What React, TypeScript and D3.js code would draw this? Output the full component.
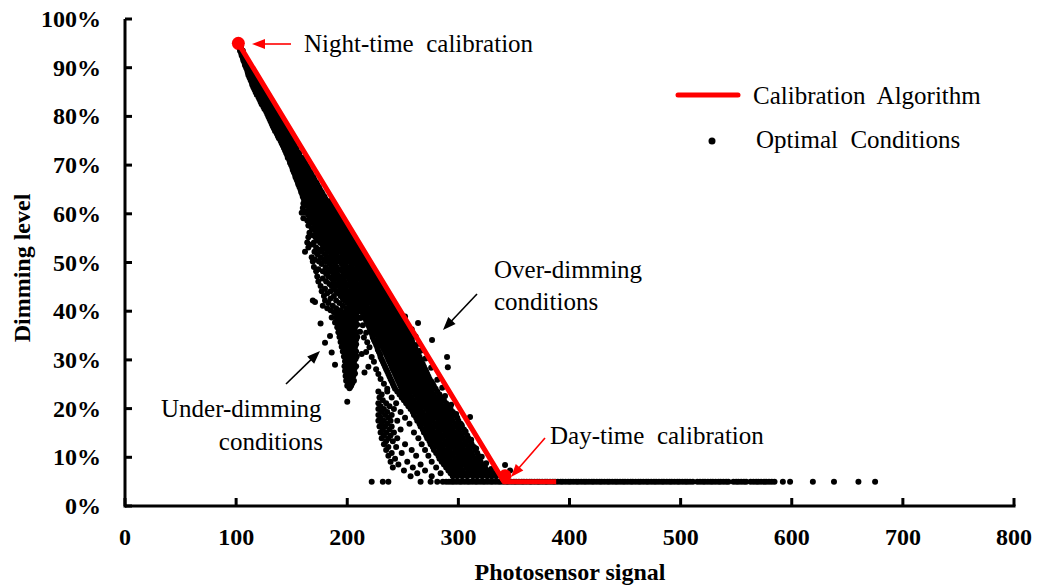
import React from "react";
import * as d3 from "d3";

const WIDTH = 1043;
const HEIGHT = 588;

// Axis ticks
const xTicks = [0, 100, 200, 300, 400, 500, 600, 700, 800];
const yTicks = [0, 10, 20, 30, 40, 50, 60, 70, 80, 90, 100];

// Calibration algorithm: dimming level (%) vs photosensor signal
const calibration: [number, number][] = [
  [102, 95],
  [341, 5],
  [388, 5],
];
const nightCal: [number, number] = [102, 95];
const dayCal: [number, number] = [342, 6.2];

// Optimal conditions, rows of [dimming %, signals]
const upperBand: [number, number[]][] = [
  [95, [102, 103]],
  [94.5, [102.5, 104]],
  [94, [103, 104.5]],
  [93.5, [103.5, 105, 106]],
  [93, [104.5, 106]],
  [92.5, [105, 106.5, 107.5]],
  [92, [106, 107.5, 108.5]],
  [91.5, [106.5, 108, 109.5]],
  [91, [107.5, 109, 110.5]],
  [90.5, [108, 110, 111.5]],
  [90, [109, 110.5, 112.5]],
  [89.5, [110, 111.5, 113, 114]],
  [89, [110.5, 112.5, 114.5]],
  [88.5, [111, 113, 115, 116.5]],
  [88, [112, 114, 116, 117.5]],
  [87.5, [113, 115, 117, 118.5]],
  [87, [114, 116, 118, 119.5]],
  [86.5, [114.5, 116.5, 118.5, 120.5]],
  [86, [115.5, 117.5, 119.5, 121.5, 122.5]],
  [85.5, [116.5, 118.5, 120.5, 122.5]],
  [85, [117.5, 119.5, 121.5, 123.5, 125]],
  [84.5, [118.5, 120.5, 122.5, 124.5]],
  [84, [120, 122, 124, 126, 127.5]],
  [83.5, [121, 123, 125, 127, 128.5]],
  [83, [122, 124, 126, 128, 130]],
  [82.5, [123, 125, 127.5, 129.5, 131]],
  [82, [124.5, 126.5, 128.5, 130.5, 132.5]],
  [81.5, [125.5, 127.5, 130, 132, 134]],
  [81, [127, 129, 131, 133, 135]],
  [80.5, [128, 130, 132, 134, 136]],
  [80, [129, 131.5, 133.5, 135.5, 137.5]],
  [79.5, [130, 132.5, 134.5, 137, 139]],
  [79, [131, 133.5, 136, 138, 140]],
  [78.5, [132, 134.5, 137, 139, 141.5]],
  [78, [133, 135.5, 138, 140.5, 142.5]],
  [77.5, [134, 136.5, 139, 141.5, 144]],
  [77, [135, 137.5, 140, 142.5, 145]],
  [76.5, [136.5, 139, 141.5, 144, 146.5]],
  [76, [137.5, 140, 142.5, 145, 147.5]],
  [75.5, [138.5, 141, 143.5, 146, 148.5, 150]],
  [75, [140, 142.5, 145, 147.5, 150]],
  [74.5, [141, 143.5, 146, 148.5, 151, 152.5]],
  [74, [142, 144.5, 147, 149.5, 152]],
  [73.5, [143, 145.5, 148, 150.5, 153, 154.5]],
  [73, [144, 146.5, 149, 152, 154.5]],
  [72.5, [145, 147.5, 150, 153, 155.5, 157]],
  [72, [146, 148.5, 151.5, 154, 156.5]],
  [71.5, [146.5, 149.5, 152.5, 155, 157.5, 159.5]],
  [71, [148, 150.5, 153.5, 156.5, 159, 160.5]],
  [70.5, [148.5, 151.5, 154.5, 157.5, 160, 162]],
  [70, [149.5, 152.5, 155.5, 158.5, 161, 163]],
  [69.5, [150.5, 153, 156.5, 159.5, 162.5, 164.5]],
  [69, [151, 154, 157, 160.5, 163.5, 165.5]],
  [68.5, [152, 155, 158.5, 161.5, 164.5, 167]],
  [68, [153, 156, 159.5, 162.5, 165.5, 168]],
  [67.5, [153.5, 157, 160, 163.5, 166.5, 169.5]],
  [67, [154.5, 158, 161, 164.5, 168, 170.5]],
  [66.5, [155.5, 159, 162.5, 166, 169, 172]],
  [66, [156, 160, 163.5, 167, 170.5, 173]],
  [65.5, [157, 160.5, 164.5, 168, 171.5, 174.5]],
  [65, [158, 161.5, 165.5, 169, 172.5, 175.5]],
  [64.5, [158.5, 162.5, 166, 170, 173.5, 177]],
  [64, [159.5, 163, 167, 171, 174.5, 178]],
  [63.5, [160, 164, 168, 172, 176, 179.5]],
  [63, [161, 165, 169, 173, 177, 180.5]],
];

const middleBand: [number, number[]][] = [
  [62.6, [162, 166, 168.5, 172, 175, 176.5, 180, 183.5, 185]],
  [62.1, [160.5, 164, 167.5, 169.5, 173, 177, 179, 181.5, 186]],
  [61.7, [163, 165.5, 170, 174.5, 176, 180.5, 183, 185, 188]],
  [61.2, [160, 166, 168, 171, 175.5, 178, 182, 184.5, 187.5]],
  [60.6, [163.5, 169.5, 172.5, 174, 177, 181, 185.5, 189, 190.5]],
  [60.2, [159, 162, 166, 171, 176, 179, 182.5, 184, 187.5, 191]],
  [59.7, [165, 168.5, 173.5, 175.5, 180, 183, 186.5, 190, 192.5]],
  [59.1, [160.5, 167, 170, 174, 178.5, 181.5, 184, 188.5, 191, 194.5]],
  [58.6, [164, 171, 173, 177.5, 179.5, 184, 187.5, 189.5, 193, 196]],
  [58.2, [167.5, 170, 175, 180, 182.5, 186, 190.5, 192, 195.5, 197]],
  [57.6, [165, 171, 174, 177, 181.5, 185, 187.5, 191.5, 195, 198.5]],
  [57.1, [168, 173.5, 176, 179.5, 184, 188, 190, 194, 197.5, 200]],
  [56.7, [170.5, 175, 178.5, 183, 185, 189.5, 193, 196.5, 199, 201.5]],
  [56.1, [166, 172, 177, 180, 184.5, 187, 191.5, 194, 198.5, 202]],
  [55.6, [169, 174, 179.5, 182, 186.5, 190, 193, 197.5, 200, 203.5]],
  [55.2, [165, 171.5, 176, 181, 184, 188.5, 192.5, 195, 199.5, 202, 205]],
  [54.6, [173, 178, 183.5, 186, 191, 194.5, 197, 201.5, 204, 207]],
  [54.1, [164, 170, 175.5, 180, 185, 188, 193, 196, 199, 203.5, 206.5]],
  [53.7, [168, 177.5, 182, 187, 190, 194.5, 198.5, 201, 205.5, 208.5]],
  [53.1, [165, 172, 179, 184.5, 188.5, 192, 196.5, 200.5, 203, 207, 210.5]],
  [52.6, [175, 181.5, 186, 191.5, 194, 199, 202, 206.5, 209, 212]],
  [52.2, [162, 170.5, 177, 183, 188, 193.5, 196, 200, 204.5, 208, 211]],
  [51.7, [173, 180, 185.5, 190, 195.5, 198, 203, 206, 210.5, 213.5]],
  [51.1, [168, 176, 182.5, 188, 192, 197, 201.5, 204, 208.5, 212, 215.5]],
  [50.6, [171, 179, 184, 189.5, 194, 199.5, 202.5, 207.5, 210, 214.5, 217]],
  [50.2, [169, 174.5, 181, 186, 192.5, 196, 200, 205, 209, 212.5, 217.5]],
  [49.7, [177, 184, 189, 195, 198, 203.5, 206.5, 211, 215.5, 219]],
  [49.1, [170, 180.5, 186, 190.5, 196.5, 200, 204, 209.5, 212, 216.5, 220.5]],
  [48.6, [174, 182.5, 188, 193.5, 197, 202, 207.5, 210.5, 215, 219.5, 222]],
  [48.2, [172, 178, 185, 190, 195.5, 199, 204.5, 208, 213.5, 217, 221, 224]],
  [47.7, [181, 187.5, 191, 197.5, 201, 206, 211.5, 214, 219, 222.5]],
  [47.1, [173, 183, 188.5, 194, 198, 203.5, 208.5, 212, 217.5, 220.5, 225]],
  [46.7, [178, 186, 191.5, 195.5, 201.5, 205, 210, 215, 218, 223, 227]],
  [46.1, [174, 181, 188, 193, 197.5, 203, 207, 212.5, 216.5, 221, 225, 228.5]],
  [45.6, [184, 189.5, 195, 200.5, 204, 209.5, 214.5, 218, 223.5, 226.5, 230]],
  [45.2, [176, 186, 191, 197, 202, 206.5, 212, 216, 220.5, 225, 229, 231.5]],
  [44.6, [180, 188, 194, 198.5, 204, 209, 213.5, 218.5, 222, 227, 231]],
  [44.1, [177, 185, 190, 195.5, 201, 206, 210.5, 215.5, 220, 224, 229, 233.5]],
  [43.7, [182, 192, 197, 203, 207.5, 213, 217, 222, 226, 231, 235]],
  [43.1, [179, 188, 194, 199.5, 205, 209.5, 215, 219, 224.5, 228, 233, 236.5]],
  [42.6, [185, 196, 201.5, 207, 211.5, 217, 221, 226, 230.5, 234, 238]],
  [42.2, [169, 180, 190, 197.5, 204, 208.5, 214, 218.5, 223.5, 228, 232, 237, 239.5]],
  [41.7, [183, 193, 200, 205.5, 211, 215.5, 221, 225, 230, 234.5, 238, 241]],
  [41.1, [178, 187, 196, 202.5, 208, 213, 217.5, 223, 227, 232, 236, 241.5]],
  [40.6, [182, 190, 199, 204.5, 210, 214.5, 220, 224.5, 229.5, 233.5, 238.5, 242.5]],
  [40.2, [185, 194, 201, 206.5, 212, 216.5, 222, 226.5, 231, 236, 240, 244]],
];

// Low-signal streak below the main trend
const underStreak: [number, number[]][] = [
  [39.8, [188, 192.5, 197, 201, 205.5, 209]],
  [39.3, [191, 195.5, 199.5, 203, 207.5]],
  [38.7, [186, 190, 194, 198.5, 202, 206, 210]],
  [38.2, [192, 196.5, 200, 204.5, 208]],
  [37.7, [189, 194, 197.5, 202, 206.5]],
  [37.2, [193, 196, 201, 204.5, 209]],
  [36.7, [191, 195.5, 199, 203, 207]],
  [36.2, [194, 197.5, 202, 206]],
  [35.7, [192, 196, 200.5, 204, 208.5]],
  [35.2, [195, 199, 203.5, 207]],
  [34.7, [193, 197.5, 201, 205, 209]],
  [34.2, [196, 200.5, 204, 208]],
  [33.7, [194, 198, 202.5, 206]],
  [33.2, [197, 201, 205.5, 208]],
  [32.7, [195, 199.5, 203, 207]],
  [32.2, [198, 202, 206.5]],
  [31.7, [196, 200, 204, 208]],
  [31.2, [199, 203.5, 207]],
  [30.7, [197, 201, 205, 208.5]],
  [30.2, [200, 204, 207.5]],
  [29.7, [198, 202.5, 206]],
  [29.2, [199, 202.5, 206]],
  [28.7, [197.5, 201, 205, 208]],
  [28.2, [199.5, 203, 206.5]],
  [27.7, [198, 201.5, 205]],
  [27.2, [200, 203.5, 207]],
  [26.7, [198.5, 202, 205.5]],
  [26.2, [200, 204]],
  [25.7, [199, 202.5, 206]],
  [25.2, [201, 204.5]],
  [24.7, [200, 203.5]],
  [24.2, [202]],
];

const scattered: [number, number][] = [
  [171, 41.9], [180, 33.5], [184.5, 34.9], [186, 31.5], [189, 29], [176, 37.5],
  [200, 21.4], [202.5, 24.4], [213, 31.2], [215.5, 27.4], [211.5, 35.8],
];

// Main trend below 40 %
const lowerBand: [number, number[]][] = [
  [39.6, [214, 218, 221.5, 225, 229, 232.5, 236, 239.5, 243, 246]],
  [39.1, [215.5, 219, 223, 226.5, 230, 234, 237.5, 241, 244.5, 247.5]],
  [38.6, [212, 216, 220, 224, 227.5, 231, 234.5, 238.5, 242, 245.5, 248.5]],
  [38.1, [217, 221, 224.5, 228.5, 232, 236, 239.5, 243, 246.5, 249.5]],
  [37.6, [218.5, 222, 226, 229.5, 233, 237, 240.5, 244, 247.5, 250.5]],
  [37.1, [214, 219, 223.5, 227, 231, 234.5, 238, 242, 245.5, 248.5, 251.5]],
  [36.6, [220, 224.5, 228, 232, 235.5, 239.5, 243, 246.5, 250, 252.5]],
  [36.1, [221, 225.5, 229.5, 233, 237, 240.5, 244, 248, 251, 254]],
  [35.6, [217, 222, 226.5, 230.5, 234, 238, 241.5, 245, 249, 252, 255]],
  [35.1, [222.5, 227, 231, 235, 238.5, 242.5, 246, 249.5, 253, 256]],
  [34.6, [215, 223, 228, 232, 236, 239.5, 243.5, 247, 250.5, 254, 257]],
  [34.1, [224, 229, 233, 237, 240.5, 244.5, 248, 251.5, 255, 258]],
  [33.6, [218, 225, 230, 234, 238, 241.5, 245.5, 249, 252.5, 256, 258.5]],
  [33.1, [226, 231, 235, 239, 242.5, 246.5, 250, 253.5, 257, 260]],
  [32.6, [220, 227, 232, 236, 240, 243.5, 247.5, 251, 254.5, 258, 261]],
  [32.1, [227.5, 233, 237, 241, 244.5, 248.5, 252, 255.5, 259, 262]],
  [31.6, [217, 228.5, 234, 238, 242, 245.5, 249.5, 253, 256.5, 260, 263]],
  [31.1, [229.5, 235, 239, 243, 246.5, 250.5, 254, 257.5, 261, 264]],
  [30.6, [222, 230, 236, 240, 244, 247.5, 251.5, 255, 258.5, 262, 265]],
  [30.1, [231, 237, 241, 245, 248.5, 252.5, 256, 259.5, 263, 266]],
  [29.6, [224, 232, 238, 242, 246, 249.5, 253.5, 257, 260.5, 264, 267]],
  [29.1, [233, 239, 243, 247, 250.5, 254.5, 258, 261.5, 265, 268]],
  [28.6, [219, 234, 240, 244, 248, 251.5, 255.5, 259, 262.5, 266, 269]],
  [28.1, [226, 235, 241, 245, 249, 252.5, 256.5, 260, 263.5, 267, 270]],
  [27.6, [236, 242, 246, 250, 253.5, 257.5, 261, 264.5, 268, 271]],
  [27.1, [228, 237, 243, 247, 251, 254.5, 258.5, 262, 265.5, 269, 272]],
  [26.6, [238, 244, 248, 252, 255.5, 259.5, 263, 266.5, 270, 273]],
  [26.1, [230, 239, 245, 249, 253, 256.5, 260.5, 264, 267.5, 271, 274]],
  [25.6, [240, 246, 250, 254, 257.5, 261.5, 265, 268.5, 272, 275.5]],
  [25.1, [233, 241, 247, 251, 255, 258.5, 262.5, 266, 269.5, 273, 277]],
  [24.6, [242, 248, 252, 256, 259.5, 263.5, 267, 270.5, 274, 278]],
  [24.1, [236, 243, 249, 253, 257, 260.5, 264.5, 268, 271.5, 275, 279.5]],
  [23.5, [228, 236, 245, 249.5, 254, 259, 263, 267.5, 272, 276, 281]],
  [22.9, [231, 247, 251.5, 256, 261, 265, 269.5, 274, 278, 283]],
  [22.3, [229, 240, 249, 253.5, 258, 263, 267, 271.5, 276, 280, 285]],
  [21.7, [232, 251, 255.5, 260, 265, 269, 273.5, 278, 282, 287]],
  [21.1, [228, 235, 244, 253, 257.5, 262, 267, 271, 275.5, 280, 284, 289]],
  [20.5, [230, 238, 255, 259.5, 264, 269, 273, 277.5, 282, 286, 291]],
  [19.9, [228, 233, 242, 257, 261.5, 266, 271, 275, 279.5, 284, 288, 293]],
  [19.3, [231, 236, 248, 259, 263.5, 268, 273, 277, 281.5, 286, 290, 295]],
  [18.7, [228, 234, 240, 260, 265, 269.5, 274, 279, 283, 287.5, 292, 297]],
  [18.1, [230, 237, 252, 262, 266.5, 271, 276, 280, 284.5, 289, 294, 299]],
  [17.5, [228, 233, 239, 245, 263, 268, 272.5, 277, 282, 286, 290.5, 295, 300]],
  [16.9, [231, 236, 256, 265, 269.5, 274, 279, 283, 287.5, 292, 297, 302]],
  [16.3, [229, 234, 240, 266, 271, 275.5, 280, 285, 289, 293.5, 298, 303]],
  [15.7, [232, 238, 248, 268, 272.5, 277, 282, 286, 290.5, 295, 300, 305]],
  [15.1, [230, 235, 242, 260, 269, 274, 278.5, 283, 288, 292, 296.5, 301, 306]],
  [14.5, [233, 239, 271, 275.5, 280, 285, 289, 293.5, 298, 303, 308]],
  [13.9, [231, 237, 245, 264, 272, 277, 281.5, 286, 291, 295, 299.5, 304, 309]],
  [13.3, [235, 241, 274, 278.5, 283, 288, 292, 296.5, 301, 306, 311]],
  [12.7, [233, 252, 267, 275, 280, 284.5, 289, 294, 298, 302.5, 307, 312]],
  [12.1, [237, 244, 277, 281.5, 286, 291, 295, 299.5, 304, 309, 314]],
  [11.5, [235, 258, 270, 278, 283, 287.5, 292, 297, 301, 305.5, 310, 315]],
  [10.9, [240, 249, 280, 284.5, 289, 294, 298, 302.5, 307, 312, 317]],
  [10.3, [237, 262, 273, 282, 286, 290.5, 295, 300, 304, 308.5, 313, 318]],
  [9.7, [243, 283, 287.5, 292, 297, 301, 305.5, 310, 315, 319]],
  [9.1, [239, 254, 276, 285, 289, 293.5, 298, 303, 307, 311.5, 316, 320]],
  [8.5, [246, 266, 287, 291, 295.5, 300, 305, 309, 313.5, 318, 322]],
  [7.9, [241, 259, 280, 289, 293, 297.5, 302, 307, 311, 315.5, 320, 324]],
  [7.3, [251, 270, 291, 295, 299.5, 304, 309, 313, 317.5, 322, 326]],
  [6.7, [263, 284, 293, 297, 301.5, 306, 311, 315, 319.5, 324, 328]],
  [6.1, [257, 276, 295, 299, 303.5, 308, 313, 317, 321.5, 326, 330, 334]],
];

// Sparse fringe just under the calibration line
const fringe: [number, number][] = [
  [252, 38.9], [258, 36.3], [261.5, 34.8], [264.5, 33.3], [266, 31.9], [270.5, 30.3],
  [275.5, 28.4], [281, 25.9], [285.5, 24.3], [288, 22.6], [293.5, 20.8], [298, 18.9],
  [303, 16.6], [306.5, 15.3], [311.5, 13.6], [316, 11.8], [321, 10.1], [325, 8.8],
  [329.5, 7.6], [332.5, 6.8],
];

// Points above the calibration line
const overDimming: [number, number][] = [
  [263.7, 37.6], [276.3, 34.1], [289.8, 30.6], [290.5, 28.5], [310.5, 18.3],
  [342, 8.4], [346.5, 7.3],
];

// Signals where the optimal dimming level is the 5% floor
const floorLevel = 5;
const floorSignals: number[] = [
  222, 232, 237, 266, 275, 281, 286, 289, 291.5, 294, 296, 298.5, 301, 303, 305.5,
  308, 310, 312.5, 315, 317, 319.5, 322, 324, 326.5, 329, 331, 333.5, 336, 338,
  340.5, 343, 345, 347.5, 350, 352, 354.5, 357, 359, 361.5, 364, 366, 368.5, 371,
  373, 375.5, 378, 380, 382.5, 385, 387, 389.5, 392, 394, 396.5, 399, 401, 403.5,
  406, 408, 410.5, 413, 415, 417.5, 420, 422, 424.5, 427, 429, 431.5, 434, 436,
  438.5, 441, 443, 445.5, 448, 450, 452.5, 455, 457, 459.5, 462, 464, 466.5, 469,
  471, 473.5, 476, 478, 480.5, 483, 485, 487.5, 490, 492, 494.5, 497, 499, 501.5,
  504, 506, 508.5, 511, 515, 517.5, 520, 522, 524.5, 527, 529, 531.5, 534, 536,
  538.5, 541, 543, 547.5, 550, 552, 554.5, 557, 559, 563, 565.5, 568, 570, 572.5,
  575, 577, 579.5, 582, 584.5, 592, 598.5, 619, 638, 660, 675,
];

const SERIF = "'Liberation Serif', 'Times New Roman', Times, serif";

function rowsToPoints(rows: [number, number[]][]): [number, number][] {
  const out: [number, number][] = [];
  rows.forEach(([level, signals]) => signals.forEach((s) => out.push([s, level])));
  return out;
}

function arrowHead(x1: number, y1: number, x2: number, y2: number, len = 13, half = 5) {
  const a = Math.atan2(y2 - y1, x2 - x1);
  const bx = x2 - len * Math.cos(a);
  const by = y2 - len * Math.sin(a);
  const px = -Math.sin(a) * half;
  const py = Math.cos(a) * half;
  return {
    line: { x1, y1, x2: bx + Math.cos(a) * 2, y2: by + Math.sin(a) * 2 },
    head: `${x2},${y2} ${bx + px},${by + py} ${bx - px},${by - py}`,
  };
}

function Arrow({ x1, y1, x2, y2, color }: { x1: number; y1: number; x2: number; y2: number; color: string }) {
  const a = arrowHead(x1, y1, x2, y2);
  return (
    <g>
      <line {...a.line} stroke={color} strokeWidth={1.6} />
      <polygon points={a.head} fill={color} />
    </g>
  );
}

export default function App() {
  const x = d3.scaleLinear().domain([0, 800]).range([125, 1014]);
  const y = d3.scaleLinear().domain([0, 100]).range([506, 19]);

  const points: [number, number][] = [
    ...rowsToPoints(upperBand),
    ...rowsToPoints(middleBand),
    ...rowsToPoints(underStreak),
    ...rowsToPoints(lowerBand),
    ...scattered,
    ...fringe,
    ...overDimming,
    ...floorSignals.map((s) => [s, floorLevel] as [number, number]),
  ];

  const linePath = d3
    .line<[number, number]>()
    .x((d) => x(d[0]))
    .y((d) => y(d[1]))(calibration) as string;

  const tickFont = { fontFamily: SERIF, fontWeight: 700, fontSize: 24 } as const;
  const noteFont = { fontFamily: SERIF, fontSize: 25, whiteSpace: "pre" } as React.CSSProperties;

  return (
    <svg
      width={WIDTH}
      height={HEIGHT}
      style={{ position: "absolute", left: 0, top: 0, background: "#fff" }}
    >
      <rect width={WIDTH} height={HEIGHT} fill="#fff" />

      {/* scatter */}
      <g fill="#000">
        {points.map((p, i) => (
          <circle key={i} cx={x(p[0])} cy={y(p[1])} r={3} />
        ))}
      </g>

      {/* calibration algorithm */}
      <path d={linePath} fill="none" stroke="#ff0000" strokeWidth={5} strokeLinejoin="round" />
      <circle cx={x(nightCal[0])} cy={y(nightCal[1])} r={6.5} fill="#ff0000" />
      <circle cx={x(dayCal[0])} cy={y(dayCal[1])} r={6.5} fill="#ff0000" />

      {/* axes */}
      <g stroke="#000" strokeWidth={3} fill="none">
        <line x1={x(0)} x2={x(800) + 1.5} y1={y(0)} y2={y(0)} />
        <line x1={x(0)} x2={x(0)} y1={y(0) + 1.5} y2={y(100)} />
        {xTicks.map((t) => (
          <line key={`xt${t}`} x1={x(t)} x2={x(t)} y1={y(0)} y2={y(0) - 8} />
        ))}
        {yTicks.map((t) => (
          <line key={`yt${t}`} x1={x(0)} x2={x(0) + 7} y1={y(t)} y2={y(t)} />
        ))}
      </g>
      <g style={tickFont} fill="#000">
        {xTicks.map((t) => (
          <text key={`xl${t}`} x={x(t)} y={y(0) + 39} textAnchor="middle">
            {t}
          </text>
        ))}
        {yTicks.map((t) => (
          <text key={`yl${t}`} x={101} y={y(t) + 8} textAnchor="end">
            {`${t}%`}
          </text>
        ))}
      </g>

      {/* axis titles */}
      <text x={570} y={580} textAnchor="middle" style={tickFont} fill="#000">
        Photosensor signal
      </text>
      <text
        transform={`translate(30,268) rotate(-90)`}
        textAnchor="middle"
        style={tickFont}
        fill="#000"
      >
        Dimming level
      </text>

      {/* legend */}
      <line x1={678} x2={738} y1={95} y2={95} stroke="#ff0000" strokeWidth={5} strokeLinecap="round" />
      <text x={753} y={104} style={noteFont} fill="#000">
        {"Calibration  Algorithm"}
      </text>
      <circle cx={712} cy={141} r={3.5} fill="#000" />
      <text x={756} y={148} style={noteFont} fill="#000">
        {"Optimal  Conditions"}
      </text>

      {/* annotations */}
      <Arrow x1={291} y1={44} x2={252} y2={44} color="#ff0000" />
      <text x={304} y={52} style={noteFont} fill="#000">
        {"Night-time  calibration"}
      </text>

      <Arrow x1={545} y1={438} x2={511} y2={477} color="#ff0000" />
      <text x={550} y={444} style={noteFont} fill="#000">
        {"Day-time  calibration"}
      </text>

      <Arrow x1={477} y1={294} x2={443} y2={330} color="#000" />
      <text x={494} y={278} style={noteFont} fill="#000">
        Over-dimming
      </text>
      <text x={494} y={310} style={noteFont} fill="#000">
        conditions
      </text>

      <Arrow x1={286} y1={384} x2={320} y2={351} color="#000" />
      <text x={161} y={417} style={noteFont} fill="#000">
        Under-dimming
      </text>
      <text x={323} y={450} textAnchor="end" style={noteFont} fill="#000">
        conditions
      </text>
    </svg>
  );
}
